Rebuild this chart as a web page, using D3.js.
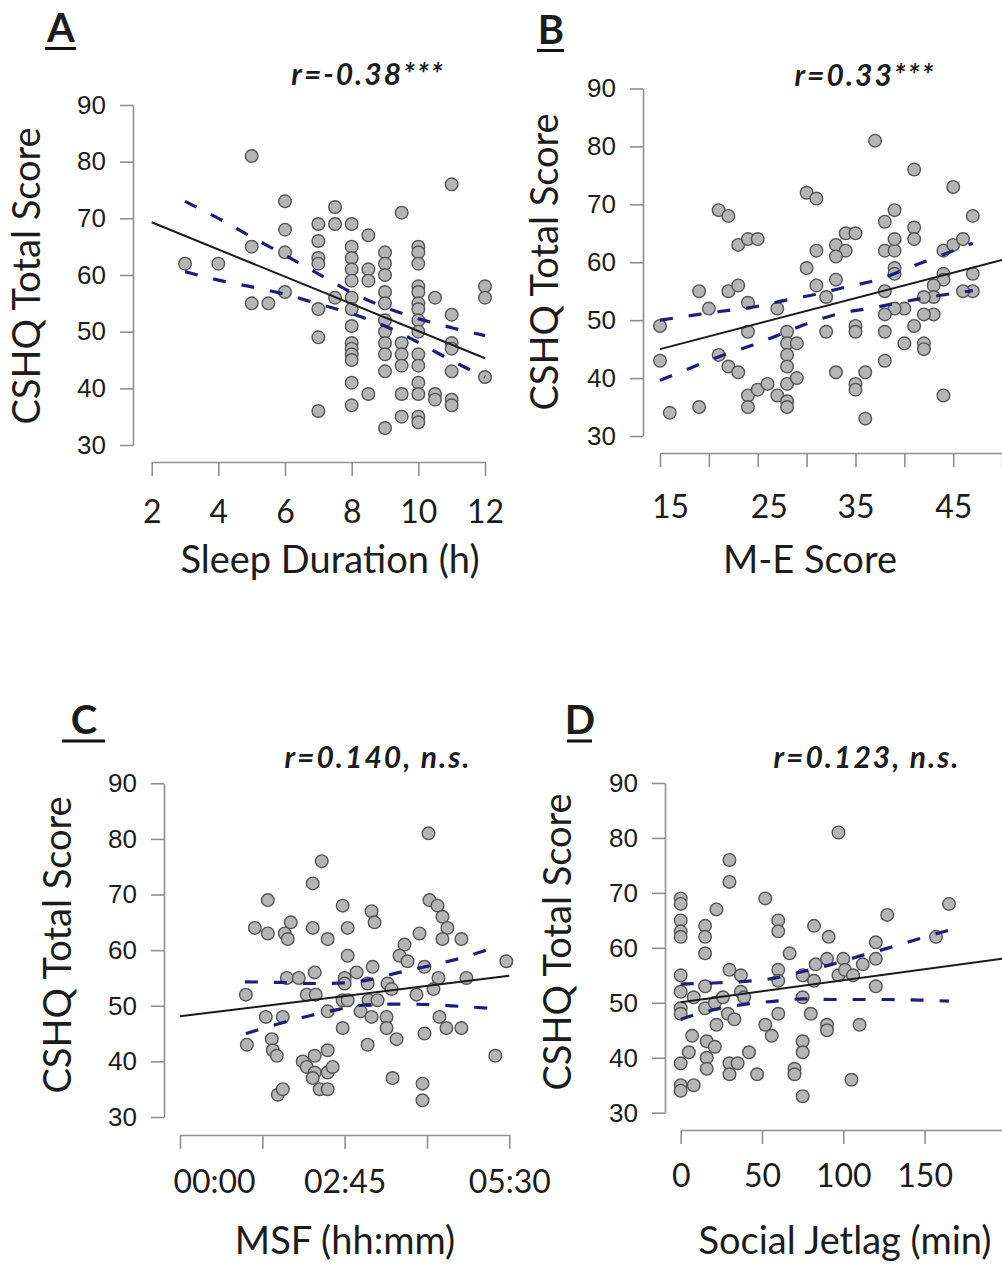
<!DOCTYPE html>
<html>
<head>
<meta charset="utf-8">
<script src="https://cdn.jsdelivr.net/npm/d3@7"></script>
<style>
  body { margin: 0; background: #fff; }
  text { fill: #1c1c1c; }
</style>
</head>
<body>
<svg id="fig" width="1002" height="1272"></svg>
<script>
// CSHQ total score against sleep measures: [x, score] per child
var sleepDuration = [
  [3,62],[4,62],[5,81],[5,65],[5,55],[5.5,55],[6,73],[6,68],[6,64],[6,57],
  [7,69],[7,66],[7,63],[7,62],[7,54],[7,49],[7,36],[7.5,72],[7.5,69],[7.5,56],
  [8,69],[8,65],[8,63],[8,61],[8,59],[8,56],[8,54],[8,51],[8,48],[8,47],[8,46],[8,45],[8,41],[8,37],
  [8.5,67],[8.5,61],[8.5,59],[8.5,39],
  [9,64],[9,62],[9,60],[9,57],[9,55],[9,52],[9,50],[9,48],[9,46],[9,43],[9,33],
  [9.5,71],[9.5,48],[9.5,46],[9.5,44],[9.5,39],[9.5,35],
  [10,65],[10,64],[10,62],[10,58],[10,57],[10,55],[10,54],[10,52],[10,50],[10,46],[10,44],[10,41],[10,39],[10,35],[10,34],
  [10.5,56],[10.5,39],[10.5,38],
  [11,76],[11,53],[11,48],[11,47],[11,43],[11,38],[11,37],
  [12,58],[12,56],[12,42]
];
var meScore = [
  [37,81],[41,76],[45,73],[21,69],[22,68],[30,72],[31,71],[47,68],[39,69],[38,67],
  [41,66],[41,64],[23,63],[24,64],[25,64],[34,65],[35,65],[33,63],[34,62],[33,61],
  [31,62],[30,59],[38,62],[39,62],[39,64],[39,59],[44,62],[45,63],[46,64],[44,58],
  [47,58],[33,57],[19,55],[22,55],[23,56],[20,52],[24,53],[27,52],[31,56],[32,54],
  [39,58],[38,55],[44,57],[47,55],[46,55],[43,56],[43,54],[43,51],[42,54],[42,51],
  [41,49],[42,46],[42,45],[40,46],[40,52],[39,52],[38,51],[38,48],[38,43],[44,37],
  [35,49],[35,48],[32,48],[36,41],[35,39],[35,38],[33,41],[36,33],[15,49],[15,43],
  [16,34],[19,35],[21,44],[22,42],[23,41],[24,48],[24,37],[24,35],[25,38],[26,39],
  [27,37],[28,48],[28,46],[28,44],[28,42],[28,39],[28,36],[28,35],[29,46],[29,40]
];
// MSF in minutes after midnight
var msf = [
  [249,81],[142,76],[133,72],[88,69],[163,68],[250,69],[258,68],[263,66],[268,64],[192,67],
  [195,65],[111,65],[133,64],[168,64],[240,63],[75,64],[88,63],[105,63],[108,62],[148,62],
  [263,62],[282,62],[225,61],[220,59],[228,58],[168,59],[193,57],[177,56],[135,56],[107,55],
  [119,55],[66,52],[127,52],[136,52],[165,55],[165,54],[163,51],[168,51],[188,54],[189,51],
  [198,51],[208,54],[212,53],[245,57],[259,55],[254,53],[287,55],[327,58],[237,52],[86,48],
  [103,48],[148,49],[181,49],[192,48],[207,48],[207,46],[163,46],[260,48],[267,46],[282,46],
  [217,44],[245,45],[188,43],[67,43],[92,44],[93,42],[97,41],[148,42],[123,40],[135,41],
  [127,39],[135,38],[148,38],[153,39],[316,41],[213,37],[243,36],[98,34],[103,35],[140,35],
  [148,35],[243,33],[133,37]
];
// social jetlag in minutes
var jetlag = [
  [97,81],[30,76],[30,72],[0,69],[0,68],[22,67],[52,69],[165,68],[127,66],[0,65],
  [0,63],[0,62],[15,64],[60,65],[60,63],[82,64],[15,62],[15,59],[91,62],[67,59],
  [120,61],[157,62],[90,58],[100,58],[83,57],[120,58],[112,57],[30,56],[37,55],[60,56],
  [60,54],[75,55],[82,54],[97,55],[101,56],[106,55],[0,55],[0,52],[0,49],[0,48],
  [8,51],[15,53],[15,49],[21,50],[26,51],[37,52],[39,51],[29,48],[22,46],[33,47],
  [120,53],[75,51],[60,48],[80,48],[52,46],[56,44],[90,46],[90,45],[110,46],[7,44],
  [16,43],[21,42],[5,41],[0,39],[16,40],[16,38],[42,41],[30,39],[35,39],[30,37],
  [47,37],[75,43],[75,41],[70,38],[70,37],[105,36],[0,35],[8,35],[0,34],[75,33]
];

// fitted lines and 95% confidence limits
var fitA = [[2,69.3],[12,45.3]];
var upperA = [[3,73],[4,70],[5,66.7],[6,63.5],[7,60.2],[8,56.9],[9,54.3],[10,52.3],[11,50.7],[12,49.3]];
var lowerA = [[3,60.6],[4,59.1],[5,57.9],[6,56.6],[7,54.9],[8,53.2],[9,51],[10,48.1],[11,44.9],[12,42]];
var fitB = [[15,45],[50,60.4]];
var upperB = [[15,50],[19,51],[22,51.7],[25,52.4],[28,53.5],[31,54.5],[34,55.7],[37.5,57.1],[40.5,59.1],[43.5,61],[47,63.3]];
var lowerB = [[15,39.6],[18.5,42],[21.5,44],[24.5,45.7],[27.5,47.7],[30.5,49.7],[33.5,51.2],[37,52.2],[40,53.2],[43,54.1],[47,55.1]];
var fitC = [[0,48.1],[330,55.4]];
var upperC = [[65,54.3],[100,54.2],[135,54],[165,54.1],[190,54.7],[220,56],[250,57.2],[280,58.5],[315,60.5]];
var lowerC = [[66,45],[100,46.8],[130,48.2],[160,49.4],[190,50.2],[220,50.3],[250,50.2],[280,49.9],[315,49.5]];
var fitD = [[0,50.1],[200,58.1]];
var upperD = [[0,53.4],[20,53.6],[40,53.9],[58,54.5],[75,55.7],[93,57],[110,58.5],[128,60],[146,61.6],[165,63.2]];
var lowerD = [[0,47],[21,48.8],[39,49.7],[58,50.3],[75,50.7],[94,50.6],[110,50.6],[128,50.6],[147,50.5],[165,50.3]];

// ticks
var yTicks = [30,40,50,60,70,80,90];
var xTicksA = [2,4,6,8,10,12];
var xTicksB = [15,20,25,30,35,40,45,50];
var xLabelsB = [15,25,35,45];
var xTicksC = [0,82.5,165,247.5,330];
var xLabelsC = {0:"00:00", 165:"02:45", 330:"05:30"};
var xTicksD = [0,50,100,150];

var panels = [
  {letter:"A", stat:"r=-0.38***", xTitle:"Sleep Duration (h)",
   pts:sleepDuration, fit:fitA, up:upperA, lo:lowerA,
   xDom:[2,12], xRange:[151.7,485], yRange:[445,105], axisX:133, axisY:462,
   ticks:xTicksA, fmt:function(d){ return d; }, labelBase:523, shift:{},
   letterPos:[61,42], uline:[45,76,48.5], statPos:[368,85], yTitle:[40,276], xTitlePos:[330,573]},
  {letter:"B", stat:"r=0.33***", xTitle:"M-E Score",
   pts:meScore, fit:fitB, up:upperB, lo:lowerB,
   xDom:[15,50], xRange:[660,1002.1], yRange:[436,88.5], axisX:643, axisY:453,
   ticks:xTicksB, fmt:function(d){ return xLabelsB.indexOf(d) >= 0 ? d : ""; }, labelBase:518, shift:{15:10, 25:11},
   letterPos:[551,44], uline:[537,564,50.5], statPos:[865,86], yTitle:[558,262], xTitlePos:[810,573]},
  {letter:"C", stat:"r=0.140, n.s.", xTitle:"MSF (hh:mm)",
   pts:msf, fit:fitC, up:upperC, lo:lowerC,
   xDom:[0,330], xRange:[180,509.3], yRange:[1117,783.3], axisX:164, axisY:1135,
   ticks:xTicksC, fmt:function(d){ return xLabelsC[d] || ""; }, labelBase:1193, shift:{0:34},
   letterPos:[84,734], uline:[62,105,741], statPos:[378,768], yTitle:[71,945], xTitlePos:[345,1254]},
  {letter:"D", stat:"r=0.123, n.s.", xTitle:"Social Jetlag (min)",
   pts:jetlag, fit:fitD, up:upperD, lo:lowerD,
   xDom:[0,197.6], xRange:[680.7,1002], yRange:[1112.7,783], axisX:665, axisY:1130,
   ticks:xTicksD, fmt:function(d){ return d; }, labelBase:1187, shift:{},
   letterPos:[580,734], uline:[567,592,741], statPos:[867,768], yTitle:[571,942], xTitlePos:[845,1254]}
];

var svg = d3.select("#fig");
var humanist = "Lato, 'Open Sans', sans-serif";

panels.forEach(function(p) {
  var x = d3.scaleLinear().domain(p.xDom).range(p.xRange);
  var y = d3.scaleLinear().domain([30,90]).range(p.yRange);
  var g = svg.append("g");

  // y axis, ticks pointing out to the left
  var ya = g.append("g")
    .attr("transform", "translate(" + p.axisX + ",0)")
    .call(d3.axisLeft(y).tickValues(yTicks).tickSize(13).tickSizeOuter(0).tickPadding(14));
  ya.selectAll("text")
    .style("font-family", "'Liberation Sans', Arial, sans-serif")
    .style("font-size", "26px");

  // x axis; labels placed on a fixed baseline below the ticks
  var xa = g.append("g")
    .attr("transform", "translate(0," + p.axisY + ")")
    .call(d3.axisBottom(x).tickValues(p.ticks).tickFormat(p.fmt)
      .tickSize(14).tickSizeOuter(0));
  xa.selectAll("text")
    .attr("y", p.labelBase - p.axisY)
    .attr("dy", null)
    .attr("dx", function(d){ return p.shift[d] || 0; })
    .style("font-family", humanist)
    .style("font-size", "32px");

  [ya, xa].forEach(function(a) {
    a.select(".domain").attr("stroke", "#8f8f8f").attr("stroke-width", 1.6);
    a.selectAll(".tick line").attr("stroke", "#8f8f8f").attr("stroke-width", 1.6);
    a.selectAll("text").attr("fill", "#1c1c1c");
  });

  // points
  g.selectAll("circle")
    .data(p.pts)
    .enter()
    .append("circle")
    .attr("cx", function(d){ return x(d[0]); })
    .attr("cy", function(d){ return y(d[1]); })
    .attr("r", 6.3)
    .attr("fill", "#b5b5b5")
    .attr("stroke", "#555")
    .attr("stroke-width", 1.4);

  var line = d3.line()
    .x(function(d){ return x(d[0]); })
    .y(function(d){ return y(d[1]); });
  var band = d3.line()
    .curve(d3.curveMonotoneX)
    .x(function(d){ return x(d[0]); })
    .y(function(d){ return y(d[1]); });

  [p.up, p.lo].forEach(function(b) {
    g.append("path")
      .attr("d", band(b))
      .attr("fill", "none")
      .attr("stroke", "#1d1d7c")
      .attr("stroke-width", 3.2)
      .attr("stroke-dasharray", "13,16");
  });

  g.append("path")
    .attr("d", line(p.fit))
    .attr("fill", "none")
    .attr("stroke", "#1a1a1a")
    .attr("stroke-width", 2);

  // panel letter with underline
  g.append("text")
    .attr("x", p.letterPos[0]).attr("y", p.letterPos[1])
    .attr("text-anchor", "middle")
    .style("font-family", humanist)
    .style("font-size", "40px")
    .style("font-weight", "bold")
    .text(p.letter);
  g.append("line")
    .attr("x1", p.uline[0]).attr("x2", p.uline[1])
    .attr("y1", p.uline[2]).attr("y2", p.uline[2])
    .attr("stroke", "#111").attr("stroke-width", 3);

  // correlation
  g.append("text")
    .attr("x", p.statPos[0]).attr("y", p.statPos[1])
    .attr("text-anchor", "middle")
    .style("font-family", humanist)
    .style("font-size", "30px")
    .style("font-weight", "bold")
    .style("font-style", "italic")
    .style("letter-spacing", "2px")
    .text(p.stat);

  // axis titles
  g.append("text")
    .attr("transform", "translate(" + p.yTitle[0] + "," + p.yTitle[1] + ") rotate(-90)")
    .attr("text-anchor", "middle")
    .style("font-family", humanist)
    .style("font-size", "38px")
    .text("CSHQ Total Score");
  g.append("text")
    .attr("x", p.xTitlePos[0]).attr("y", p.xTitlePos[1])
    .attr("text-anchor", "middle")
    .style("font-family", humanist)
    .style("font-size", "38px")
    .text(p.xTitle);
});
</script>
</body>
</html>
